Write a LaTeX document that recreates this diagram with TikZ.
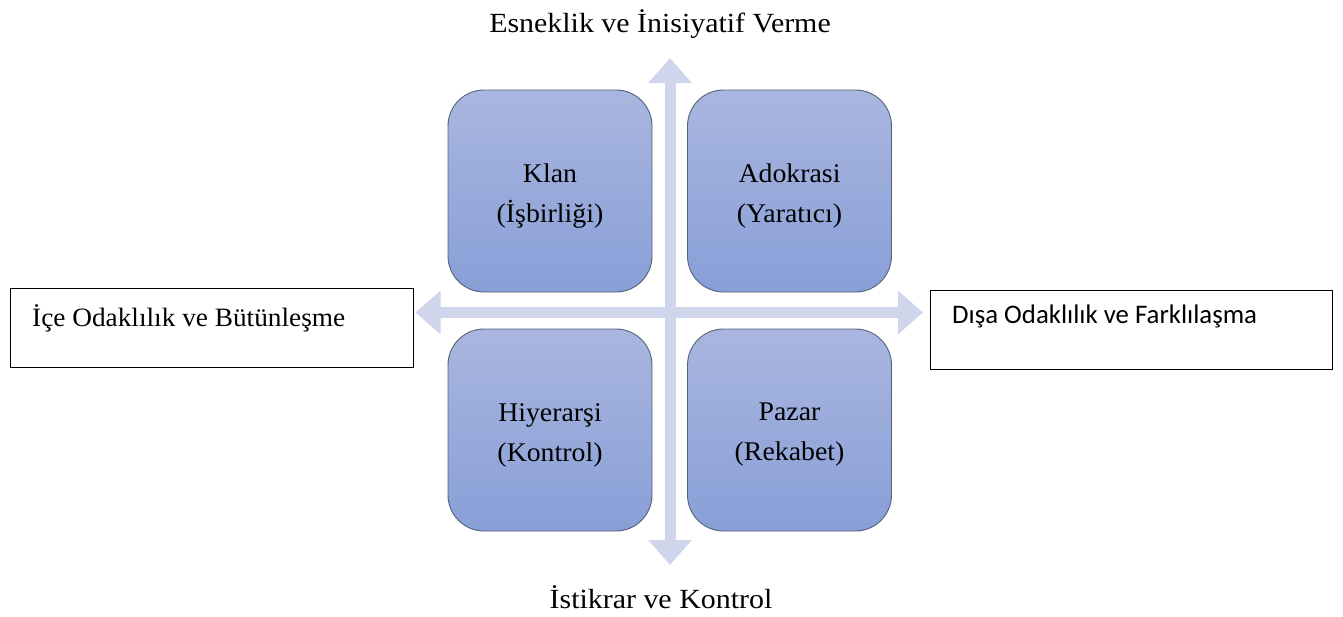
\documentclass[tikz,border=0pt]{standalone}
\usepackage{fontspec}
\setmainfont[FakeStretch=1.03]{Liberation Serif}
\newfontfamily\labfont[FakeStretch=1.08]{Liberation Serif}
\newfontfamily\calfont{Carlito}
\usetikzlibrary{arrows.meta}
\definecolor{axiscol}{HTML}{CFD5EA}
\definecolor{boxtop}{HTML}{A9B6DF}
\definecolor{boxbot}{HTML}{889FD7}
\definecolor{boxline}{HTML}{56617A}
\begin{document}
\begin{tikzpicture}[x=1pt,y=-1pt,
  quad/.style={draw=boxline, line width=0.9pt, rounded corners=36pt,
    top color=boxtop, bottom color=boxbot,
    minimum width=204pt, minimum height=202pt, inner sep=0pt},
  qtext/.style={align=center, inner sep=0pt, font=\fontsize{27}{40}\selectfont},
  axisarrow/.style={draw=axiscol, line width=11pt,
    {Triangle[width=42pt,length=25pt]}-{Triangle[width=42pt,length=25pt]}},
  sidebox/.style={draw=black, line width=1pt, inner sep=0pt, minimum height=79pt},
  sertext/.style={inner sep=0pt, font=\fontsize{26.5}{30}\selectfont},
  saxis/.style={inner sep=0pt, font=\labfont\fontsize{27.7}{32}\selectfont},
  caltext/.style={inner sep=0pt, font=\calfont\fontsize{26.8}{32}\selectfont}
]
\useasboundingbox[fill=white] (0,0) rectangle (1343,616);

% axes
\coordinate (ttip) at (670,58);
\coordinate (btip) at (670,565);
\coordinate (ltip) at (415.5,312.5);
\coordinate (rtip) at (923,312.5);
\draw[axisarrow] (ltip) -- (rtip);
\draw[axisarrow] (ttip) -- (btip);

% quadrants
\node[quad] (klan) at (550,191) {};
\node[quad] (adok) at (789.5,191) {};
\node[quad] (hiy) at (550,430) {};
\node[quad] (paz) at (789.5,430) {};
\node[qtext] (klant) at ([yshift=-5pt]klan.center) {Klan\\(İşbirliği)};
\node[qtext] (adokt) at ([yshift=-5pt]adok.center) {Adokrasi\\(Yaratıcı)};
\node[qtext] (hiyt) at ([yshift=-5pt]hiy.center) {Hiyerarşi\\(Kontrol)};
\node[qtext] (pazt) at ([yshift=-5pt]paz.center) {Pazar\\(Rekabet)};

% axis labels
\node[saxis, anchor=base] (toplab) at (660,32) {Esneklik ve İnisiyatif Verme};
\node[saxis, anchor=base] (botlab) at (661,608) {İstikrar ve Kontrol};

% side boxes
\node[sidebox, minimum width=403pt] (lbox) at (211.5,327.5) {};
\node[sertext, anchor=base west] (ltext) at (32,326) {İçe Odaklılık ve Bütünleşme};
\node[sidebox, minimum width=402pt] (rbox) at (1131,329.5) {};
\node[caltext, anchor=base west] (rtext) at (952,323) {Dışa Odaklılık ve Farklılaşma};
\end{tikzpicture}
\end{document}
